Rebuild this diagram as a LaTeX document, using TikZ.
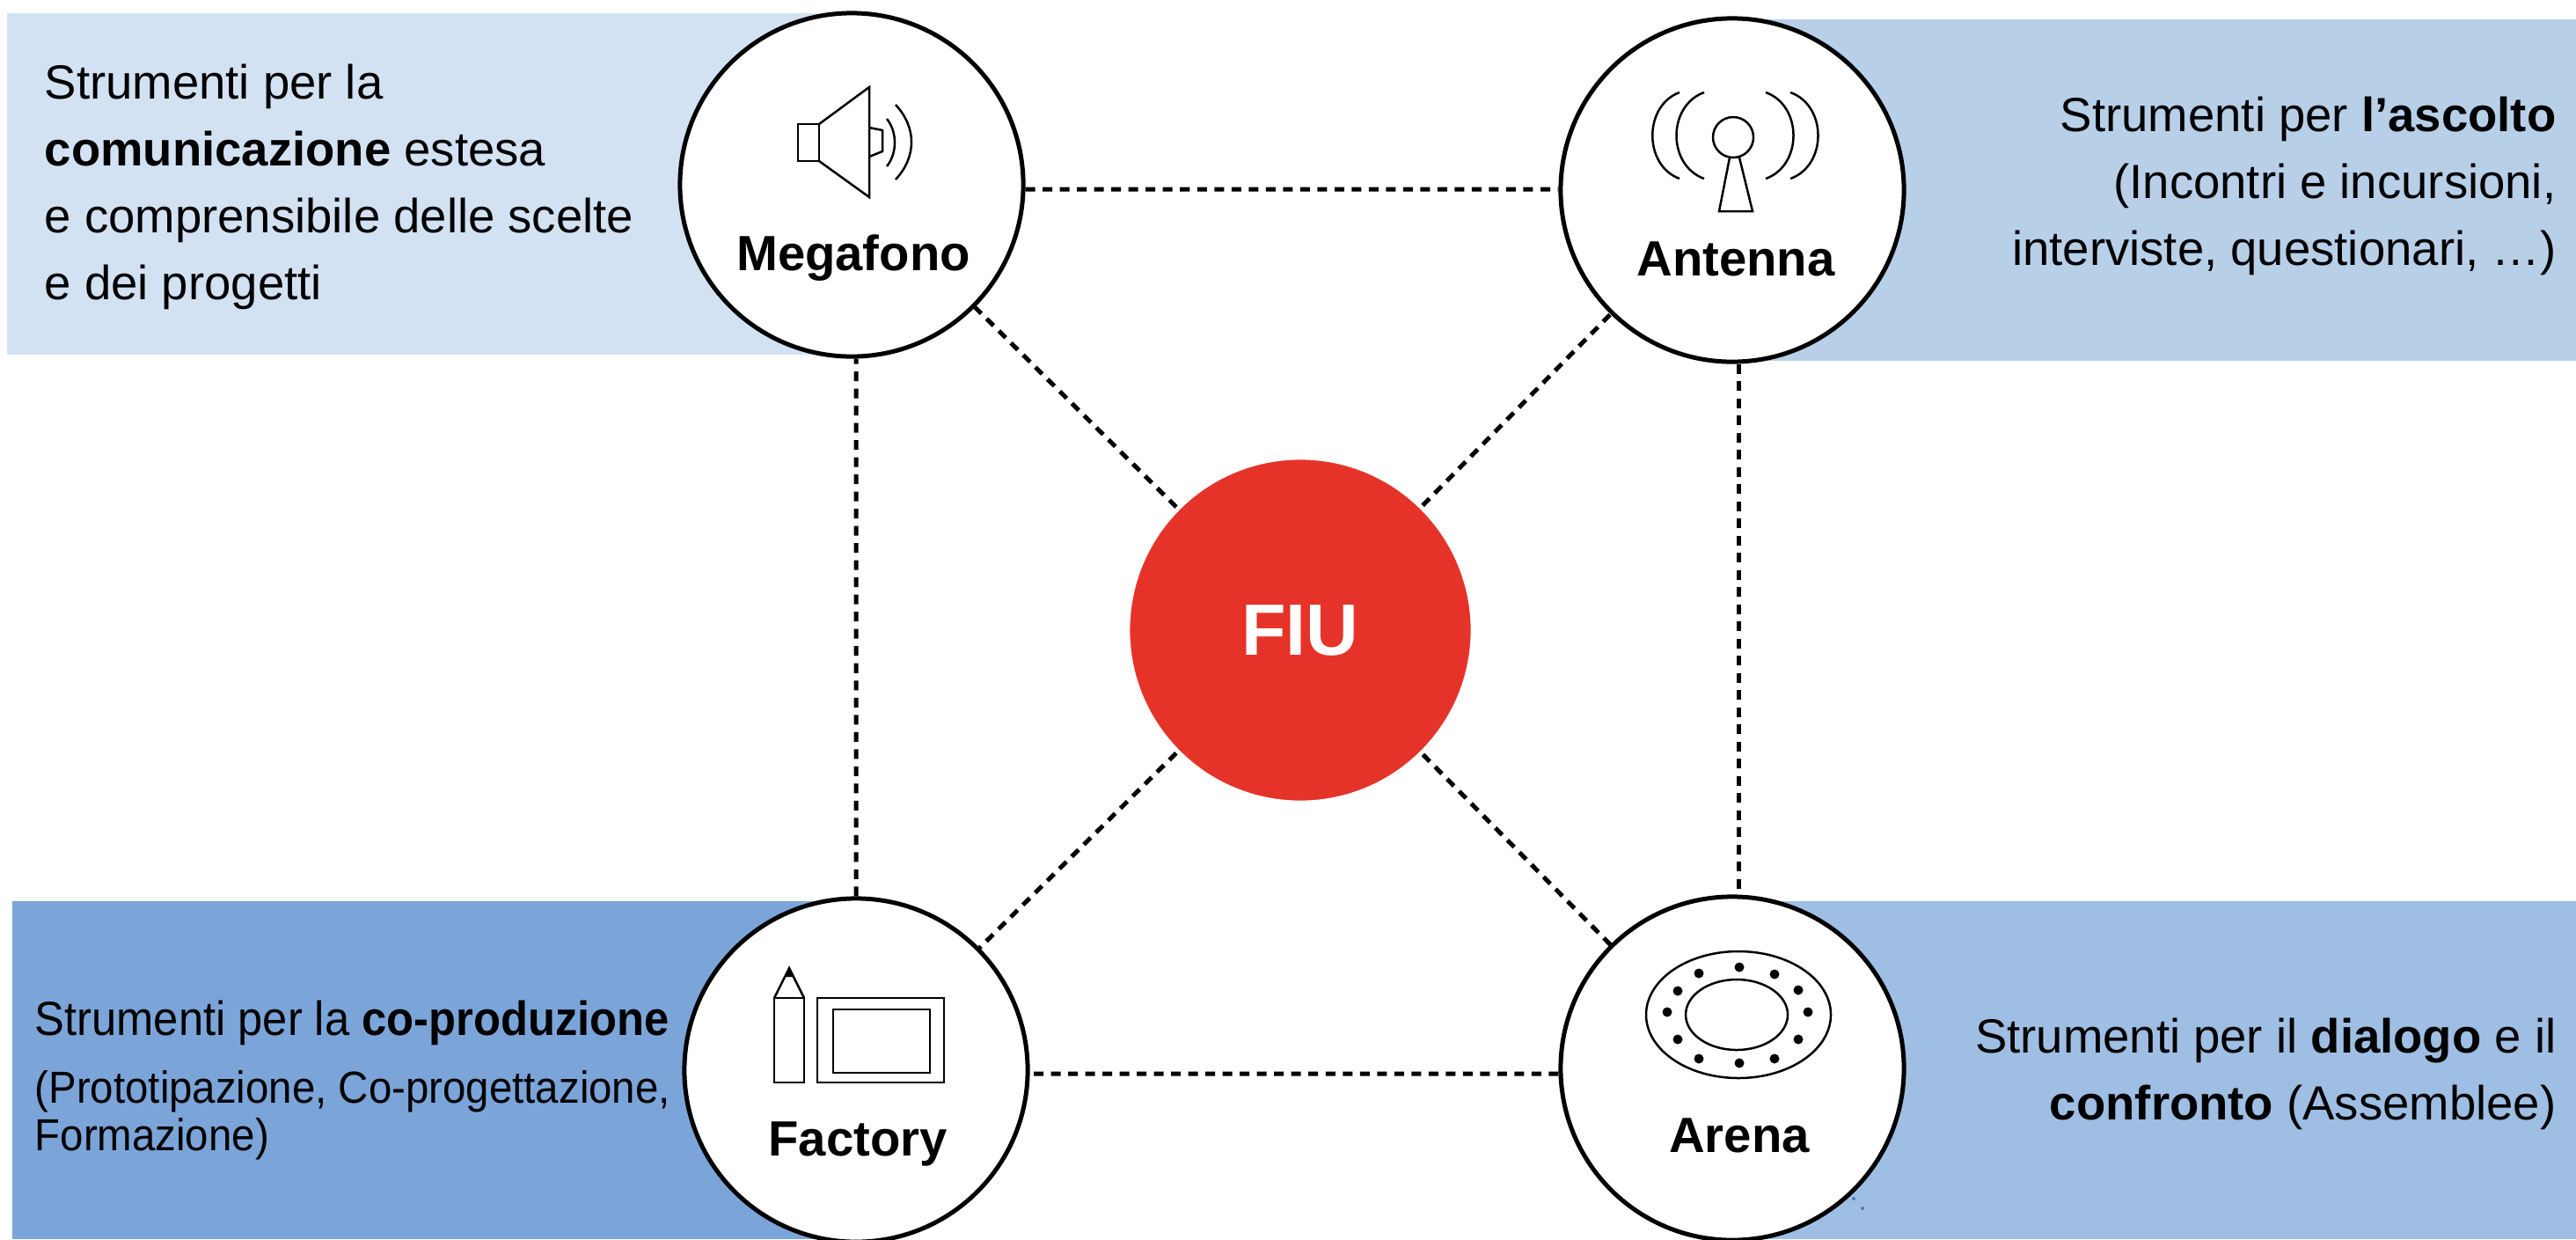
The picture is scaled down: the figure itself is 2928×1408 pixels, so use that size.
\documentclass[tikz,border=0pt]{standalone}
\usepackage{fontspec}
\setmainfont{Liberation Sans}
\newfontfamily\narrowfont[FakeStretch=.93]{Liberation Sans}
\definecolor{bandmega}{HTML}{D3E2F2}
\definecolor{bandante}{HTML}{B8CFE8}
\definecolor{bandfact}{HTML}{7BA5D9}
\definecolor{bandaren}{HTML}{9FBEE3}
\definecolor{fiured}{HTML}{E63329}
\definecolor{specks}{HTML}{4F7AB5}
\tikzset{
	hub/.style={circle,draw=black,fill=white,line width=.05cm,minimum size=3.9cm,inner sep=0},
	link/.style={line width=.05cm,dash pattern=on .11cm off .085cm},
	icon/.style={line width=.025cm},
	hubname/.style={anchor=base,font=\fontsize{16}{20}\selectfont\bfseries},
	lefttext/.style={anchor=west,align=left,inner sep=0,font=\fontsize{15.5}{21.6}\selectfont},
	righttext/.style={anchor=east,align=right,inner sep=0,font=\fontsize{15.5}{21.6}\selectfont}
}
\begin{document}
\begin{tikzpicture}[x=.01cm,y=-.01cm]
	\useasboundingbox (0,0) rectangle (2928,1408);

	% bands
	\fill[bandmega] (8,15) rectangle (970,403);
	\fill[bandante] (1968,22) rectangle (2928,410);
	\fill[bandfact] (14,1024) rectangle (973,1408);
	\fill[bandaren] (1968,1024) rectangle (2928,1408);

	% tools and centre
	\node[hub] (megafono) at (968,210) {};
	\node[hub] (antenna) at (1969,216) {};
	\node[hub] (factory) at (973,1216) {};
	\node[hub] (arena) at (1969,1214) {};
	\node[circle,fill=fiured,draw=white,line width=.05cm,minimum size=3.92cm,inner sep=0] (fiu) at (1478,716) {};

	\draw[link] ([yshift=-.05cm]megafono.east) -- ([yshift=.01cm]antenna.west);
	\draw[link] ([xshift=.07cm]antenna.south) -- ([xshift=.07cm]arena.north);
	\draw[link] ([yshift=-.06cm]arena.west) -- ([yshift=-.04cm]factory.east);
	\draw[link] (factory.north) -- ([xshift=.05cm]megafono.south);
	\draw[link] (fiu) -- (megafono);
	\draw[link] (fiu) -- (antenna);
	\draw[link] (fiu) -- (factory);
	\draw[link] (fiu) -- (arena);

	\node[text=white,font=\fontsize{23.5}{28}\selectfont\bfseries] (fiuname) at (fiu) {FIU};
	\node[hubname] (meganame) at (970,307) {Megafono};
	\node[hubname] (antename) at (1973,313) {Antenna};
	\node[hubname] (factname) at (975,1313) {Factory};
	\node[hubname] (arenname) at (1977,1309) {Arena};

	% loudspeaker
	\draw[icon] (907,141) rectangle (931,183);
	\draw[icon] (931,141) -- (988,99) -- (988,224) -- (931,183);
	\draw[icon] (988,145) -- (1003,148) -- (1003,172) -- (988,178);
	\draw[icon] (1008,135) .. controls (1020,150) and (1020,174) .. (1008,189);
	\draw[icon] (1018,119) .. controls (1042,145) and (1042,178) .. (1018,204);

	% mast
	\draw[icon] (1970,156) circle (23);
	\draw[icon] (1966,179) -- (1954,240) -- (1992,240) -- (1977,179);
	\draw[icon] (1909,105) .. controls (1868,120) and (1868,188) .. (1909,203);
	\draw[icon] (1937,105) .. controls (1895,120) and (1895,188) .. (1937,203);
	\draw[icon] (2007,105) .. controls (2049,120) and (2049,188) .. (2007,203);
	\draw[icon] (2035,105) .. controls (2077,120) and (2077,188) .. (2035,203);

	% pencil and tablet
	\draw[icon] (880,1134) rectangle (914,1230);
	\draw[icon] (880,1134) -- (897,1100) -- (914,1134);
	\fill (892,1110) -- (897,1100) -- (902,1110) -- cycle;
	\draw[icon] (929,1134) rectangle (1073,1230);
	\draw[icon] (947,1147) rectangle (1057,1219);

	% ring of seats
	\draw[icon] (1976,1153) ellipse (105 and 72);
	\draw[icon] (1974,1153) ellipse (58 and 40);
	\foreach \x/\y in {1977/1099,2017/1107,2044/1125,2055/1150,2044/1181,2017/1203,1977/1208,1931/1203,1907/1181,1895/1150,1907/1126,1931/1106}
		\fill (\x,\y) circle (5.5);
	\fill[specks] (2107,1362) circle (2);
	\fill[specks] (2117,1373) circle (2);

	% texts
	\node[lefttext] (megatext) at (50,212) {Strumenti per la\\\textbf{comunicazione} estesa\\e comprensibile delle scelte\\e dei progetti};
	\node[righttext] (antetext) at (2906,211) {Strumenti per \textbf{l’ascolto}\\(Incontri e incursioni,\\interviste, questionari, …)};
	\node[lefttext,font=\fontsize{15.5}{21.6}\narrowfont] (facttext) at (39,1162) {Strumenti per la \textbf{co-produzione}};
	\node[lefttext,font=\fontsize{14.5}{15.4}\narrowfont] (factnote) at (39,1267) {(Prototipazione, Co-progettazione,\\Formazione)};
	\node[righttext] (arentext) at (2906,1220) {Strumenti per il \textbf{dialogo} e il\\\textbf{confronto} (Assemblee)};
\end{tikzpicture}
\end{document}
